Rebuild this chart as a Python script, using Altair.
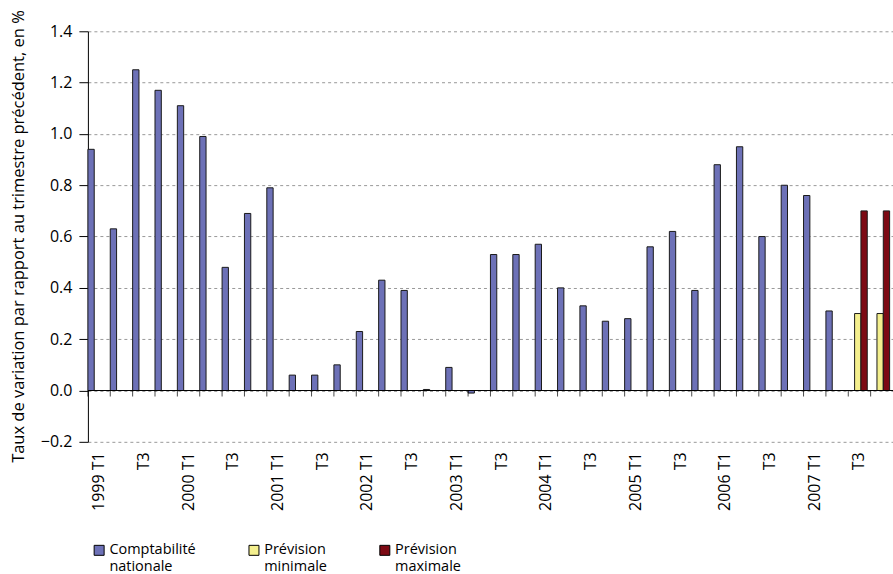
import altair as alt
import pandas as pd

years = [1999, 2000, 2001, 2002, 2003, 2004, 2005, 2006, 2007]
quarter_names = ["T1", "T2", "T3", "T4"]
quarters = [f"{y} {q}" for y in years for q in quarter_names]

series_order = ["Comptabilité nationale", "Prévision minimale", "Prévision maximale"]
colors = ["#6D71B7", "#F4EF8E", "#7D0A14"]

national = [0.94, 0.63, 1.25, 1.17, 1.11, 0.99, 0.48, 0.69,
            0.79, 0.06, 0.06, 0.10, 0.23, 0.43, 0.39, 0.004,
            0.09, -0.01, 0.53, 0.53, 0.57, 0.40, 0.33, 0.27,
            0.28, 0.56, 0.62, 0.39, 0.88, 0.95, 0.60, 0.80,
            0.76, 0.31]
forecast_quarters = ["2007 T3", "2007 T4"]
forecast_min = [0.30, 0.30]
forecast_max = [0.70, 0.70]

rows = []
for q, v in zip(quarters, national):
    rows.append({"quarter": q, "series": series_order[0], "value": v})
for q, v in zip(forecast_quarters, forecast_min):
    rows.append({"quarter": q, "series": series_order[1], "value": v})
for q, v in zip(forecast_quarters, forecast_max):
    rows.append({"quarter": q, "series": series_order[2], "value": v})
df = pd.DataFrame(rows)
qdf = pd.DataFrame({"quarter": quarters})

FONT = "Open Sans"

x_scale = alt.Scale(domain=quarters, paddingInner=0, paddingOuter=0)
x_axis = alt.Axis(
    title=None, labelAngle=270, labelAlign="right", labelBaseline="middle",
    ticks=False, tickSize=0, domain=False, labelPadding=10, grid=False,
    labelOverlap=False, labelFontSize=16, labelColor="black",
    labelExpr="indexof(datum.value, 'T1') >= 0 ? datum.value : (indexof(datum.value, 'T3') >= 0 ? 'T3' : '')",
)
y_scale = alt.Scale(domain=[-0.2, 1.4], nice=False)
y_axis = alt.Axis(
    values=[-0.2, 0.0, 0.2, 0.4, 0.6, 0.8, 1.0, 1.2, 1.4], format=".1f",
    title="Taux de variation par rapport au trimestre précédent, en %",
    titleFontSize=16.5, titleFontWeight="normal", titleColor="black",
    titleAngle=270, titleX=-69, titleY=205, titleAlign="center", titleBaseline="middle",
    labelFontSize=16, labelColor="black", labelPadding=7,
    domainColor="black", tickColor="black", tickSize=9,
    grid=True, gridDash=[3, 3], gridColor="#999999",
)

bars = alt.Chart(df).mark_bar(stroke="#1a1a1a", strokeWidth=1).encode(
    x=alt.X("quarter:N", scale=x_scale, axis=x_axis, sort=quarters),
    xOffset=alt.XOffset("series:N", scale=alt.Scale(domain=series_order, range=[0, 19]), sort=series_order),
    y=alt.Y("value:Q", scale=y_scale, axis=y_axis),
    color=alt.Color(
        "series:N", scale=alt.Scale(domain=series_order, range=colors), sort=series_order,
        legend=alt.Legend(
            title=None, orient="none", legendX=4, legendY=512, direction="horizontal",
            symbolType="square", symbolSize=100, symbolStrokeColor="black", symbolStrokeWidth=1,
            labelFontSize=14.5, labelColor="black", labelExpr="split(datum.label, ' ')",
            columnPadding=50, padding=0, labelOffset=3, labelLimit=300,
        ),
    ),
)

zero = alt.Chart(pd.DataFrame({"z": [0.0]})).mark_rule(color="black", strokeWidth=1).encode(
    y=alt.Y("z:Q", scale=y_scale)
)

ticks = alt.Chart(qdf).mark_tick(orient="vertical", size=6, thickness=1, yOffset=3, color="black").encode(
    x=alt.X("quarter:N", scale=x_scale, sort=quarters, bandPosition=0),
    y=alt.datum(0),
)

chart = alt.layer(bars, zero, ticks).properties(
    width=806, height=411,
    autosize=alt.AutoSizeParams(type="none"),
    padding={"left": 88, "top": 31, "right": 0, "bottom": 132},
).configure(font=FONT).configure_view(stroke=None)

chart.save("out.html", embed_options={"renderer": "svg", "actions": False})
